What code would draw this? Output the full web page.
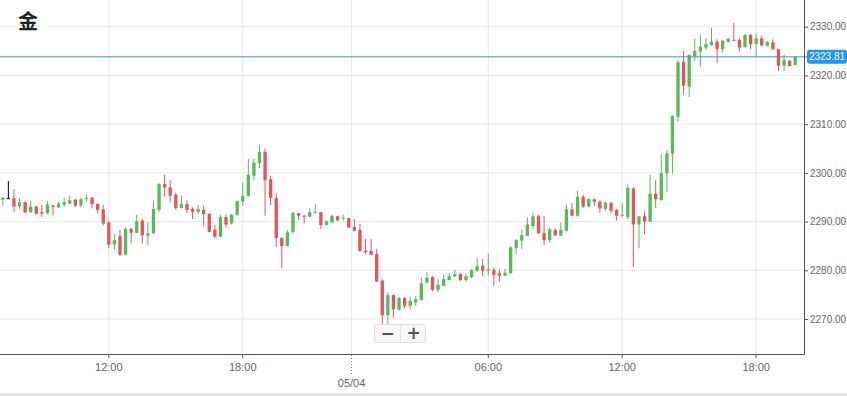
<!DOCTYPE html>
<html>
<head>
<meta charset="utf-8">
<script src="https://cdn.jsdelivr.net/npm/d3@7"></script>
<style>
    html, body { margin: 0; padding: 0; background: #fff; }
    svg { display: block; }
</style>
</head>
<body>
<div id="chart"></div>
<script>
// 15 minute candles, two sessions
var sessions = [
    { day: '05/03', from: '07:15', to: '22:45' },
    { day: '05/04', from: '00:00', to: '19:45' }
];

var opens = [
    2294.5, 2294.8, 2294.8, 2293.1, 2294.0, 2291.9, 2293.1, 2291.9, 2291.7, 2293.3,
    2292.9, 2293.5, 2293.7, 2294.5, 2293.3, 2294.6, 2294.9, 2293.6, 2292.5, 2289.8,
    2285.3, 2287.0, 2283.2, 2288.5, 2287.7, 2290.2, 2287.1, 2287.6, 2292.4, 2297.7,
    2297.0, 2295.5, 2292.8, 2293.6, 2292.6, 2292.0, 2292.4, 2291.6, 2288.3, 2286.9,
    2290.9, 2289.6, 2291.4, 2294.1, 2295.3, 2299.4, 2302.0, 2304.3, 2298.7, 2294.8,
    2286.6, 2285.0, 2287.8, 2291.7, 2291.2, 2291.0, 2291.8, 2291.9, 2289.3, 2289.8,
    2291.1, 2290.7, 2290.7, 2288.9, 2288.3, 2284.0, 2284.0, 2283.3, 2277.9, 2270.8,
    2274.9, 2271.9, 2274.3, 2272.7, 2273.4, 2273.9, 2277.5, 2278.6, 2276.0, 2276.8,
    2278.0, 2278.7, 2279.2, 2278.0, 2278.6, 2279.9, 2280.9, 2279.9, 2280.1, 2279.4,
    2278.9, 2279.4, 2284.6, 2286.1, 2287.1, 2289.1, 2291.1, 2287.6, 2286.2, 2288.3,
    2287.1, 2288.1, 2292.5, 2291.2, 2295.1, 2293.1, 2294.6, 2294.1, 2292.6, 2293.8,
    2292.4, 2291.2, 2290.9, 2296.8, 2289.4, 2291.1, 2290.0, 2295.7, 2294.4, 2299.9,
    2304.0, 2311.5, 2322.8, 2317.7, 2324.0, 2324.9, 2325.7, 2326.2, 2326.9, 2325.4,
    2326.9, 2327.3, 2327.3, 2325.8, 2328.3, 2326.4, 2327.6, 2326.1, 2326.8, 2325.4,
    2322.0, 2323.0, 2322.1
];
var highs = [
    2295.0, 2298.3, 2296.7, 2294.8, 2294.1, 2294.2, 2293.2, 2293.4, 2294.2, 2293.5,
    2294.1, 2294.9, 2295.3, 2294.6, 2294.9, 2295.5, 2295.1, 2293.7, 2293.4, 2290.2,
    2287.5, 2288.3, 2288.8, 2288.7, 2291.4, 2290.6, 2289.8, 2294.3, 2297.9, 2299.6,
    2298.5, 2295.9, 2295.3, 2294.3, 2292.9, 2293.4, 2293.3, 2291.7, 2289.3, 2291.4,
    2291.5, 2291.6, 2294.3, 2298.0, 2302.9, 2303.0, 2305.7, 2305.0, 2299.4, 2295.8,
    2286.8, 2288.3, 2292.0, 2291.8, 2291.4, 2292.7, 2293.6, 2292.0, 2290.3, 2291.4,
    2291.2, 2291.4, 2290.8, 2290.5, 2289.5, 2286.4, 2286.4, 2284.4, 2278.2, 2275.5,
    2275.1, 2274.6, 2274.5, 2274.6, 2274.8, 2278.6, 2279.6, 2278.8, 2278.2, 2279.2,
    2279.5, 2280.1, 2279.5, 2279.4, 2280.2, 2282.5, 2282.3, 2283.4, 2280.5, 2280.2,
    2280.3, 2284.9, 2286.4, 2288.3, 2290.9, 2291.9, 2291.4, 2291.1, 2288.8, 2288.6,
    2289.8, 2293.5, 2293.8, 2296.3, 2295.5, 2294.8, 2294.7, 2294.4, 2294.1, 2294.1,
    2292.6, 2293.8, 2297.6, 2297.0, 2291.2, 2292.2, 2299.6, 2298.5, 2303.8, 2304.7,
    2311.8, 2323.2, 2325.0, 2324.3, 2327.5, 2328.4, 2327.6, 2329.8, 2327.4, 2327.3,
    2327.7, 2330.8, 2327.6, 2328.5, 2328.5, 2328.6, 2328.1, 2327.1, 2327.4, 2325.4,
    2324.2, 2323.2, 2323.9
];
var lows = [
    2293.3, 2294.8, 2292.0, 2292.5, 2291.7, 2291.8, 2291.5, 2291.0, 2291.5, 2291.3,
    2292.8, 2293.0, 2293.6, 2293.0, 2292.9, 2294.1, 2292.7, 2291.7, 2289.2, 2284.5,
    2284.2, 2282.9, 2283.1, 2285.5, 2287.6, 2285.5, 2285.2, 2287.5, 2292.0, 2295.1,
    2293.9, 2292.4, 2292.7, 2291.7, 2290.5, 2291.5, 2289.0, 2287.8, 2286.6, 2286.8,
    2288.7, 2289.4, 2291.1, 2293.2, 2295.1, 2298.4, 2301.0, 2291.2, 2293.4, 2284.8,
    2280.4, 2284.9, 2287.7, 2290.3, 2289.6, 2290.9, 2291.7, 2288.5, 2289.2, 2289.6,
    2290.0, 2290.2, 2288.7, 2288.0, 2283.8, 2283.3, 2283.1, 2277.6, 2268.8, 2268.1,
    2270.3, 2271.7, 2272.2, 2272.1, 2272.7, 2273.8, 2277.3, 2275.7, 2275.5, 2276.7,
    2277.9, 2278.6, 2277.8, 2277.7, 2278.4, 2279.7, 2278.7, 2278.9, 2276.8, 2277.7,
    2278.8, 2279.3, 2283.3, 2284.4, 2287.0, 2288.5, 2287.5, 2285.2, 2285.7, 2287.0,
    2287.0, 2288.0, 2291.1, 2291.0, 2292.8, 2292.9, 2293.2, 2291.8, 2292.2, 2291.7,
    2290.2, 2290.9, 2290.5, 2280.7, 2284.5, 2287.4, 2289.9, 2292.7, 2294.3, 2296.1,
    2299.8, 2310.5, 2316.0, 2315.6, 2323.0, 2321.8, 2325.2, 2326.1, 2322.5, 2324.7,
    2326.8, 2327.1, 2324.9, 2325.7, 2325.4, 2323.8, 2325.9, 2325.9, 2325.2, 2320.9,
    2320.9, 2321.9, 2322.1
];
var closes = [
    2294.9, 2294.8, 2293.1, 2294.0, 2291.9, 2293.1, 2291.6, 2291.6, 2293.5, 2293.0,
    2293.7, 2294.0, 2294.4, 2293.3, 2294.6, 2294.8, 2293.6, 2292.4, 2289.6, 2285.3,
    2286.2, 2283.2, 2288.5, 2287.7, 2290.1, 2287.2, 2287.6, 2292.6, 2297.7, 2297.0,
    2295.3, 2292.8, 2293.6, 2292.4, 2292.0, 2292.6, 2291.5, 2287.9, 2286.9, 2290.9,
    2289.4, 2291.4, 2294.2, 2295.3, 2299.6, 2302.1, 2304.3, 2298.5, 2294.9, 2286.6,
    2285.0, 2287.8, 2291.8, 2291.2, 2291.0, 2291.9, 2292.0, 2289.3, 2290.0, 2291.2,
    2290.3, 2290.8, 2288.8, 2288.1, 2284.0, 2283.7, 2283.2, 2277.7, 2270.8, 2274.9,
    2272.0, 2274.3, 2272.7, 2273.7, 2274.1, 2277.3, 2278.5, 2276.0, 2277.0, 2278.2,
    2278.8, 2279.2, 2278.0, 2278.8, 2280.1, 2280.9, 2279.9, 2280.2, 2279.1, 2278.9,
    2279.5, 2284.7, 2286.2, 2287.2, 2289.4, 2291.1, 2287.6, 2286.2, 2288.4, 2287.2,
    2288.3, 2292.5, 2291.2, 2295.1, 2293.1, 2294.6, 2294.1, 2292.7, 2293.9, 2292.2,
    2291.2, 2291.4, 2296.9, 2289.4, 2291.1, 2290.0, 2295.7, 2294.6, 2299.9, 2304.0,
    2311.7, 2322.7, 2317.9, 2324.2, 2325.0, 2325.9, 2326.4, 2326.9, 2325.4, 2327.1,
    2327.5, 2327.1, 2325.7, 2328.3, 2326.4, 2327.6, 2326.2, 2326.9, 2325.4, 2322.0,
    2323.2, 2321.9, 2323.81
];

var priceTicks = [2270, 2280, 2290, 2300, 2310, 2320, 2330];
var timeTicks = [
    { key: '05/03 12:00', label: '12:00' },
    { key: '05/03 18:00', label: '18:00' },
    { key: '05/04 06:00', label: '06:00' },
    { key: '05/04 12:00', label: '12:00' },
    { key: '05/04 18:00', label: '18:00' }
];
var dateTicks = [{ key: '05/04 00:00', label: '05/04' }];
var lastPrice = 2323.81;
var title = '金';

window.onload = start;

function toMin(s) {
    var p = s.split(':');
    return +p[0] * 60 + +p[1];
}

function pad(n) {
    return (n < 10 ? '0' : '') + n;
}

function start() {
    var width = 847;
    var height = 396;
    var plotRight = 804;
    var plotBottom = 354;

    var green = '#5cb85c';
    var red = '#e0575b';

    // category keys for every candle
    var times = [];
    sessions.forEach(function(s) {
        for (var m = toMin(s.from); m <= toMin(s.to); m += 15) {
            times.push(s.day + ' ' + pad(Math.floor(m / 60)) + ':' + pad(m % 60));
        }
    });

    var candles = times.map(function(t, i) {
        return { t: t, o: opens[i], h: highs[i], l: lows[i], c: closes[i] };
    });

    var svg = d3
        .select('#chart')
        .append('svg')
        .attr('width', width)
        .attr('height', height);

    var x = d3
        .scaleBand()
        .domain(times)
        .range([0, 798])
        .paddingInner(0.4)
        .paddingOuter(0.2);

    var y = d3
        .scaleLinear()
        .domain([2262.82, 2335.48])
        .range([plotBottom, 0]);

    var bw = x.bandwidth();
    var step = x.step();
    function cx(t) {
        return x(t) + bw / 2;
    }

    //grid
    var grid = svg.append('g').attr('stroke', '#e9e9e9').attr('stroke-width', 1);
    grid.selectAll('.hg')
        .data(priceTicks)
        .enter()
        .append('line')
        .attr('x1', 0)
        .attr('x2', plotRight)
        .attr('y1', function(d) { return y(d); })
        .attr('y2', function(d) { return y(d); });
    grid.selectAll('.vg')
        .data(timeTicks)
        .enter()
        .append('line')
        .attr('x1', function(d) { return cx(d.key); })
        .attr('x2', function(d) { return cx(d.key); })
        .attr('y1', 0)
        .attr('y2', plotBottom);
    grid.selectAll('.dg')
        .data(dateTicks)
        .enter()
        .append('line')
        .attr('x1', function(d) { return cx(d.key) - step / 2; })
        .attr('x2', function(d) { return cx(d.key) - step / 2; })
        .attr('y1', 0)
        .attr('y2', plotBottom);

    //title
    svg.append('rect')
        .attr('x', 17)
        .attr('y', 8)
        .attr('width', 31)
        .attr('height', 28)
        .attr('fill', '#fff');
    svg.append('text')
        .attr('x', 18)
        .attr('y', 29)
        .attr('font-family', '"Noto Sans CJK SC", sans-serif')
        .attr('font-weight', 'bold')
        .attr('font-size', 20)
        .attr('fill', '#222')
        .text(title);

    //candles
    function col(d) {
        if (d.c > d.o) return green;
        if (d.c < d.o) return red;
        return '#000';
    }
    var cg = svg.append('g');
    var cs = cg.selectAll('g')
        .data(candles)
        .enter()
        .append('g');
    cs.append('line')
        .attr('x1', function(d) { return cx(d.t); })
        .attr('x2', function(d) { return cx(d.t); })
        .attr('y1', function(d) { return y(d.h); })
        .attr('y2', function(d) { return y(d.l); })
        .attr('stroke', col)
        .attr('stroke-width', 1);
    cs.append('rect')
        .attr('x', function(d) { return x(d.t); })
        .attr('width', bw)
        .attr('y', function(d) { return y(Math.max(d.o, d.c)); })
        .attr('height', function(d) {
            return Math.max(1, Math.abs(y(d.o) - y(d.c)));
        })
        .attr('fill', col);

    //last price line
    svg.append('line')
        .attr('x1', 0)
        .attr('x2', plotRight + 4)
        .attr('y1', y(lastPrice))
        .attr('y2', y(lastPrice))
        .attr('stroke', '#3a8fd1')
        .attr('stroke-width', 1);

    //y axis
    var yAxis = d3
        .axisRight(y)
        .tickValues(priceTicks)
        .tickFormat(d3.format('.2f'))
        .tickSize(4)
        .tickSizeOuter(0);
    var ya = svg.append('g')
        .attr('transform', 'translate(' + plotRight + ',0)')
        .call(yAxis);
    ya.select('.domain').remove();
    ya.selectAll('line').attr('stroke', '#555');
    ya.selectAll('text')
        .attr('x', 6)
        .attr('fill', '#666')
        .attr('font-size', 10)
        .attr('font-family', '"Liberation Sans", Arial, sans-serif');

    //x axis
    var labelOf = {};
    timeTicks.forEach(function(d) { labelOf[d.key] = d.label; });
    var xAxis = d3
        .axisBottom(x)
        .tickValues(timeTicks.map(function(d) { return d.key; }))
        .tickFormat(function(k) { return labelOf[k]; })
        .tickSize(4)
        .tickSizeOuter(0);
    var xa = svg.append('g')
        .attr('transform', 'translate(0,' + plotBottom + ')')
        .call(xAxis);
    xa.select('.domain').remove();
    xa.selectAll('line').attr('stroke', '#555');
    xa.selectAll('text')
        .attr('y', 9)
        .attr('fill', '#666')
        .attr('font-size', 11)
        .attr('font-family', '"Liberation Sans", Arial, sans-serif');

    var dt = svg.append('g').selectAll('g')
        .data(dateTicks)
        .enter()
        .append('g')
        .attr('transform', function(d) {
            return 'translate(' + (cx(d.key) - step / 2) + ',' + plotBottom + ')';
        });
    dt.append('line')
        .attr('y1', 1)
        .attr('y2', 22)
        .attr('stroke', '#777')
        .attr('stroke-dasharray', '1,2');
    dt.append('text')
        .attr('y', 33)
        .attr('text-anchor', 'middle')
        .attr('fill', '#666')
        .attr('font-size', 11)
        .attr('font-family', '"Liberation Sans", Arial, sans-serif')
        .text(function(d) { return d.label; });

    //axis lines
    svg.append('line')
        .attr('x1', plotRight + 0.5)
        .attr('x2', plotRight + 0.5)
        .attr('y1', 0)
        .attr('y2', plotBottom + 0.5)
        .attr('stroke', '#555');
    svg.append('line')
        .attr('x1', 0)
        .attr('x2', plotRight + 0.5)
        .attr('y1', plotBottom + 0.5)
        .attr('y2', plotBottom + 0.5)
        .attr('stroke', '#555');

    //price tag
    var tag = svg.append('g')
        .attr('transform', 'translate(807,' + y(lastPrice) + ')');
    tag.append('rect')
        .attr('x', 0)
        .attr('y', -7)
        .attr('width', 40)
        .attr('height', 14)
        .attr('rx', 3)
        .attr('fill', '#2196f3');
    tag.append('text')
        .attr('x', 20)
        .attr('y', 3.5)
        .attr('text-anchor', 'middle')
        .attr('fill', '#fff')
        .attr('font-size', 10)
        .attr('font-family', '"Liberation Sans", Arial, sans-serif')
        .text(d3.format('.2f')(lastPrice));

    //zoom buttons
    var zb = svg.append('g').attr('transform', 'translate(374.5,324.5)');
    zb.append('rect')
        .attr('width', 51)
        .attr('height', 18)
        .attr('rx', 2)
        .attr('fill', '#f7f7f7')
        .attr('stroke', '#e0e0e0');
    zb.append('line')
        .attr('x1', 26)
        .attr('x2', 26)
        .attr('y1', 1)
        .attr('y2', 17)
        .attr('stroke', '#e0e0e0');
    zb.selectAll('text')
        .data(['\u2212', '+'])
        .enter()
        .append('text')
        .attr('x', function(d, i) { return i ? 39 : 13; })
        .attr('y', 14.5)
        .attr('text-anchor', 'middle')
        .attr('font-size', 17)
        .attr('font-weight', 'bold')
        .attr('fill', '#555')
        .attr('font-family', '"DejaVu Sans", sans-serif')
        .text(function(d) { return d; });

    //bottom strip
    svg.append('rect')
        .attr('x', 0)
        .attr('y', 393)
        .attr('width', width)
        .attr('height', 3)
        .attr('fill', '#e3e3e3');
}
</script>
</body>
</html>
